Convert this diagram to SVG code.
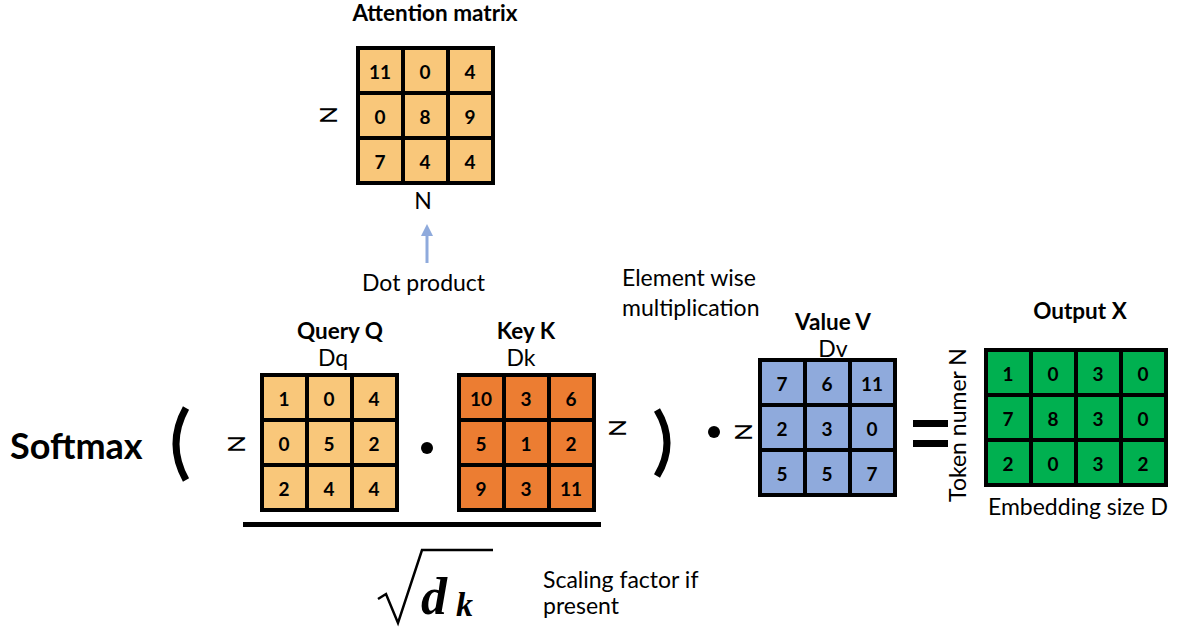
<svg xmlns="http://www.w3.org/2000/svg" width="1180" height="634" viewBox="0 0 1180 634">
<defs>
<style>
.t{font-family:Lato,"Liberation Sans",sans-serif;fill:#000}
.h{font-family:Lato,"Liberation Sans",sans-serif;font-weight:bold;font-size:22.5px;text-anchor:middle}
.n{font-family:Lato,"Liberation Sans",sans-serif;font-weight:bold;font-size:19px;text-anchor:middle;dominant-baseline:central}
.lbl{font-family:Lato,"Liberation Sans",sans-serif;font-size:23px}
.c rect{stroke:#000;stroke-width:4}
.o rect{fill:#f9c77a}
.k rect{fill:#ec7d32}
.v rect{fill:#8faadc}
.g rect{fill:#00b050}
</style>
<marker id="ah" viewBox="0 0 10 10" refX="5" refY="5" markerWidth="4" markerHeight="4" orient="auto-start-reverse">
<path d="M0,0 L10,5 L0,10 z" fill="#8faadc"/>
</marker>
</defs>
<rect width="1180" height="634" fill="#fff"/>

<g id="attention">
<text class="h" x="435" y="21">Attention matrix</text>
<g class="c o">
<rect x="358" y="48" width="45" height="45"/><rect x="403" y="48" width="45" height="45"/><rect x="448" y="48" width="45" height="45"/>
<rect x="358" y="93" width="45" height="45"/><rect x="403" y="93" width="45" height="45"/><rect x="448" y="93" width="45" height="45"/>
<rect x="358" y="138" width="45" height="45"/><rect x="403" y="138" width="45" height="45"/><rect x="448" y="138" width="45" height="45"/>
</g>
<text class="n" x="380" y="71">11</text><text class="n" x="425" y="71">0</text><text class="n" x="470" y="71">4</text>
<text class="n" x="380" y="116">0</text><text class="n" x="425" y="116">8</text><text class="n" x="470" y="116">9</text>
<text class="n" x="380" y="161">7</text><text class="n" x="425" y="161">4</text><text class="n" x="470" y="161">4</text>
<text class="lbl" text-anchor="middle" transform="translate(337,115) rotate(-90)">N</text>
<text class="lbl" x="423" y="209" text-anchor="middle">N</text>
</g>

<g id="connectors">
<line x1="427" y1="263" x2="427" y2="230" stroke="#8faadc" stroke-width="3" marker-end="url(#ah)"/>
</g>

<g id="labels">
<text class="lbl" x="362" y="291">Dot product</text>
<text class="lbl" x="622" y="286">Element wise</text>
<text class="lbl" x="622" y="316">multiplication</text>
<text class="t" x="10" y="459" font-weight="bold" font-size="36">Softmax</text>
<path d="M186,408 Q166,444 186,480" fill="none" stroke="#000" stroke-width="7"/>
<path d="M657,410 Q677,443 657,476" fill="none" stroke="#000" stroke-width="7"/>
<circle cx="427" cy="448" r="6"/>
<circle cx="714" cy="432" r="6"/>
<rect x="243" y="522" width="358" height="5"/>
<path d="M378,599 L386,594 L398,623 L422,550 L493,550" fill="none" stroke="#000" stroke-width="2.5"/>
<text x="421" y="614" font-family="'Liberation Serif',serif" font-style="italic" font-weight="bold" font-size="52">d</text>
<text x="456" y="616" font-family="'Liberation Serif',serif" font-style="italic" font-weight="bold" font-size="34">k</text>
<text class="lbl" x="543" y="588">Scaling factor if</text>
<text class="lbl" x="543" y="614">present</text>
<rect x="913" y="420" width="35" height="7"/>
<rect x="913" y="440" width="35" height="7"/>
</g>

<g id="query">
<text class="h" x="340" y="339">Query Q</text>
<text class="lbl" x="333" y="366" text-anchor="middle">Dq</text>
<g class="c o">
<rect x="262" y="375" width="45" height="45"/><rect x="307" y="375" width="45" height="45"/><rect x="352" y="375" width="45" height="45"/>
<rect x="262" y="420" width="45" height="45"/><rect x="307" y="420" width="45" height="45"/><rect x="352" y="420" width="45" height="45"/>
<rect x="262" y="465" width="45" height="45"/><rect x="307" y="465" width="45" height="45"/><rect x="352" y="465" width="45" height="45"/>
</g>
<text class="n" x="284" y="398">1</text><text class="n" x="329" y="398">0</text><text class="n" x="374" y="398">4</text>
<text class="n" x="284" y="443">0</text><text class="n" x="329" y="443">5</text><text class="n" x="374" y="443">2</text>
<text class="n" x="284" y="488">2</text><text class="n" x="329" y="488">4</text><text class="n" x="374" y="488">4</text>
<text class="lbl" text-anchor="middle" transform="translate(245,444) rotate(-90)">N</text>
</g>

<g id="key">
<text class="h" x="526" y="339">Key K</text>
<text class="lbl" x="521" y="366" text-anchor="middle">Dk</text>
<g class="c k">
<rect x="459" y="375" width="45" height="45"/><rect x="504" y="375" width="45" height="45"/><rect x="549" y="375" width="45" height="45"/>
<rect x="459" y="420" width="45" height="45"/><rect x="504" y="420" width="45" height="45"/><rect x="549" y="420" width="45" height="45"/>
<rect x="459" y="465" width="45" height="45"/><rect x="504" y="465" width="45" height="45"/><rect x="549" y="465" width="45" height="45"/>
</g>
<text class="n" x="481" y="398">10</text><text class="n" x="526" y="398">3</text><text class="n" x="571" y="398">6</text>
<text class="n" x="481" y="443">5</text><text class="n" x="526" y="443">1</text><text class="n" x="571" y="443">2</text>
<text class="n" x="481" y="488">9</text><text class="n" x="526" y="488">3</text><text class="n" x="571" y="488">11</text>
<text class="lbl" text-anchor="middle" transform="translate(626,428) rotate(-90)">N</text>
</g>

<g id="value">
<text class="h" x="833" y="330">Value V</text>
<text class="lbl" x="833" y="357" text-anchor="middle" font-size="21">Dv</text>
<g class="c v">
<rect x="760" y="360" width="45" height="45"/><rect x="805" y="360" width="45" height="45"/><rect x="850" y="360" width="45" height="45"/>
<rect x="760" y="405" width="45" height="45"/><rect x="805" y="405" width="45" height="45"/><rect x="850" y="405" width="45" height="45"/>
<rect x="760" y="450" width="45" height="45"/><rect x="805" y="450" width="45" height="45"/><rect x="850" y="450" width="45" height="45"/>
</g>
<text class="n" x="782" y="383">7</text><text class="n" x="827" y="383">6</text><text class="n" x="872" y="383">11</text>
<text class="n" x="782" y="428">2</text><text class="n" x="827" y="428">3</text><text class="n" x="872" y="428">0</text>
<text class="n" x="782" y="473">5</text><text class="n" x="827" y="473">5</text><text class="n" x="872" y="473">7</text>
<text class="lbl" text-anchor="middle" transform="translate(752,432) rotate(-90)">N</text>
</g>

<g id="output">
<text class="h" x="1080" y="319">Output X</text>
<g class="c g">
<rect x="986" y="350" width="45" height="45"/><rect x="1031" y="350" width="45" height="45"/><rect x="1076" y="350" width="45" height="45"/><rect x="1121" y="350" width="45" height="45"/>
<rect x="986" y="395" width="45" height="45"/><rect x="1031" y="395" width="45" height="45"/><rect x="1076" y="395" width="45" height="45"/><rect x="1121" y="395" width="45" height="45"/>
<rect x="986" y="440" width="45" height="45"/><rect x="1031" y="440" width="45" height="45"/><rect x="1076" y="440" width="45" height="45"/><rect x="1121" y="440" width="45" height="45"/>
</g>
<text class="n" x="1008" y="373">1</text><text class="n" x="1053" y="373">0</text><text class="n" x="1098" y="373">3</text><text class="n" x="1143" y="373">0</text>
<text class="n" x="1008" y="418">7</text><text class="n" x="1053" y="418">8</text><text class="n" x="1098" y="418">3</text><text class="n" x="1143" y="418">0</text>
<text class="n" x="1008" y="463">2</text><text class="n" x="1053" y="463">0</text><text class="n" x="1098" y="463">3</text><text class="n" x="1143" y="463">2</text>
<text class="lbl" text-anchor="middle" transform="translate(966,425) rotate(-90)">Token numer N</text>
<text class="lbl" x="1078" y="515" text-anchor="middle">Embedding size D</text>
</g>
</svg>
